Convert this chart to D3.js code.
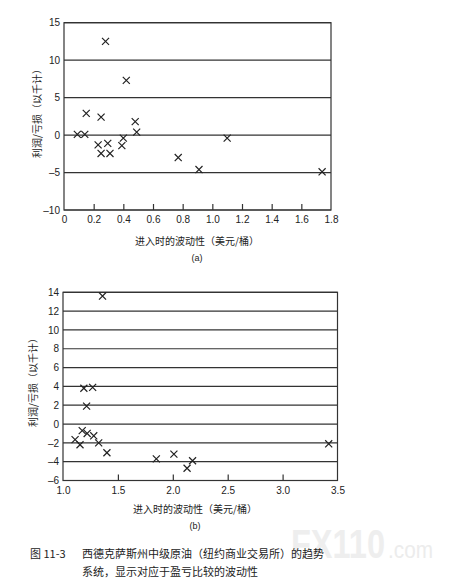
<!DOCTYPE html>
<meta charset="utf-8">
<style>
body { margin: 0; background: #fff; }
.frame { fill: none; stroke: #333; stroke-width: 1.2px; }
.grid line { stroke: #333; stroke-width: 1.2px; }
.tick text { font-family: "Liberation Sans", Arial, sans-serif; font-size: 10px; fill: #222; }
.mark { fill: none; stroke: #222; stroke-width: 1.2px; }
.cn { font-family: "Noto Sans CJK SC", sans-serif; fill: #222; }
</style>
<body></body>
<script src="https://cdn.jsdelivr.net/npm/d3@7"></script>
<script>
// panel (a): volatility at entry vs profit/loss
var volA = [0.09, 0.14, 0.15, 0.28, 0.25, 0.23, 0.25, 0.295, 0.31, 0.42, 0.40, 0.39, 0.48, 0.49, 0.77, 0.91, 1.10, 1.74];
var plA  = [0.1, 0.1, 2.9, 12.5, 2.4, -1.3, -2.45, -1.1, -2.45, 7.3, -0.4, -1.4, 1.8, 0.4, -3.0, -4.6, -0.4, -4.9];
var xTicksA = [0, 0.2, 0.4, 0.6, 0.8, 1.0, 1.2, 1.4, 1.6, 1.8];
var yTicksA = [-10, -5, 0, 5, 10, 15];

// panel (b)
var volB = [1.36, 1.19, 1.27, 1.215, 1.175, 1.22, 1.11, 1.155, 1.28, 1.325, 1.40, 1.85, 2.01, 2.13, 2.18, 3.42];
var plB  = [13.6, 3.8, 3.9, 1.9, -0.7, -1.0, -1.65, -2.2, -1.25, -2.0, -3.05, -3.7, -3.2, -4.7, -3.9, -2.1];
var xTicksB = [1.0, 1.5, 2.0, 2.5, 3.0, 3.5];
var yTicksB = [-6, -4, -2, 0, 2, 4, 6, 8, 10, 12, 14];

var yLabel = "利润/亏损（以千计）";
var xLabel = "进入时的波动性（美元/桶）";

var svg = d3.select("body").append("svg")
    .attr("width", 459).attr("height", 583);

svg.append("rect").attr("width", 459).attr("height", 583).attr("fill", "#fff");

// watermark, faint, behind the caption
svg.append("text")
    .attr("x", 291).attr("y", 558)
    .attr("textLength", 94).attr("lengthAdjust", "spacingAndGlyphs")
    .style("font-family", "'Liberation Sans', Arial, sans-serif")
    .style("font-weight", "bold").style("font-size", "41px")
    .attr("fill", "#eeeeee")
    .text("FX110");
svg.append("text")
    .attr("x", 388).attr("y", 558)
    .attr("textLength", 45).attr("lengthAdjust", "spacingAndGlyphs")
    .style("font-family", "'Liberation Sans', Arial, sans-serif")
    .style("font-size", "24px")
    .attr("fill", "#ececec")
    .text(".com");

function drawPanel(p) {
    var x = d3.scaleLinear().domain(p.xDomain).range([p.left, p.right]);
    var y = d3.scaleLinear().domain(p.yDomain).range([p.bottom, p.top]);
    var g = svg.append("g");

    // horizontal grid lines at each y tick
    g.append("g").attr("class", "grid")
        .selectAll("line").data(p.yTicks).enter().append("line")
        .attr("x1", p.left).attr("x2", p.right)
        .attr("y1", function(d) { return y(d); })
        .attr("y2", function(d) { return y(d); });

    g.append("rect").attr("class", "frame")
        .attr("x", p.left).attr("y", p.top)
        .attr("width", p.right - p.left).attr("height", p.bottom - p.top);

    // x axis: ticks point inward
    var xa = g.append("g")
        .attr("transform", "translate(0," + p.bottom + ")")
        .call(d3.axisBottom(x).tickValues(p.xTicks).tickSize(-6).tickPadding(6)
            .tickFormat(p.xFmt));
    xa.select(".domain").remove();
    xa.selectAll(".tick line").attr("stroke", "#333").attr("stroke-width", 1.2)
        .filter(function(d, i) { return i == 0 || i == p.xTicks.length - 1; }).remove();

    var ya = g.append("g")
        .attr("transform", "translate(" + p.left + ",0)")
        .call(d3.axisLeft(y).tickValues(p.yTicks).tickSize(0).tickPadding(4)
            .tickFormat(function(d) { return d < 0 ? "\u2013" + Math.abs(d) : d; }));
    ya.select(".domain").remove();

    // X markers
    g.selectAll(".mark").data(p.xs).enter().append("path")
        .attr("class", "mark")
        .attr("d", d3.symbol(d3.symbolX, 34))
        .attr("transform", function(d, i) {
            return "translate(" + x(d) + "," + y(p.ys[i]) + ")";
        });

    g.append("text").attr("class", "cn")
        .attr("transform", "translate(" + p.yLabX + "," + p.yLabY + ") rotate(-90)")
        .attr("text-anchor", "middle").attr("dy", "0.35em")
        .style("font-size", "10px")
        .text(yLabel);

    g.append("text").attr("class", "cn")
        .attr("x", p.xLabX).attr("y", p.xLabY)
        .attr("text-anchor", "middle")
        .style("font-size", "10px")
        .text(xLabel);

    g.append("text")
        .attr("x", p.xLabX).attr("y", p.xLabY + 16)
        .attr("text-anchor", "middle")
        .style("font-family", "'Liberation Sans', Arial, sans-serif")
        .style("font-size", "9px").attr("fill", "#222")
        .text(p.tag);
}

drawPanel({
    xs: volA, ys: plA, xTicks: xTicksA, yTicks: yTicksA,
    xDomain: [0, 1.8], yDomain: [-10, 15],
    left: 64, right: 331, top: 22.7, bottom: 210,
    xFmt: function(d) { return d == 0 ? "0" : d3.format(".1f")(d); },
    yLabX: 37, yLabY: 111, xLabX: 197, xLabY: 245, tag: "(a)"
});

drawPanel({
    xs: volB, ys: plB, xTicks: xTicksB, yTicks: yTicksB,
    xDomain: [1.0, 3.5], yDomain: [-6, 14],
    left: 63, right: 337.5, top: 292.3, bottom: 480.5,
    xFmt: d3.format(".1f"),
    yLabX: 33, yLabY: 380, xLabX: 195, xLabY: 513, tag: "(b)"
});

// caption
var cap = svg.append("g").attr("class", "cn").style("font-size", "11px");
cap.append("text").attr("x", 30).attr("y", 558).attr("class", "cn").text("图 11-3");
cap.append("text").attr("x", 82).attr("y", 558).attr("class", "cn")
    .text("西德克萨斯州中级原油（纽约商业交易所）的趋势");
cap.append("text").attr("x", 82).attr("y", 576).attr("class", "cn")
    .text("系统，显示对应于盈亏比较的波动性");
</script>
